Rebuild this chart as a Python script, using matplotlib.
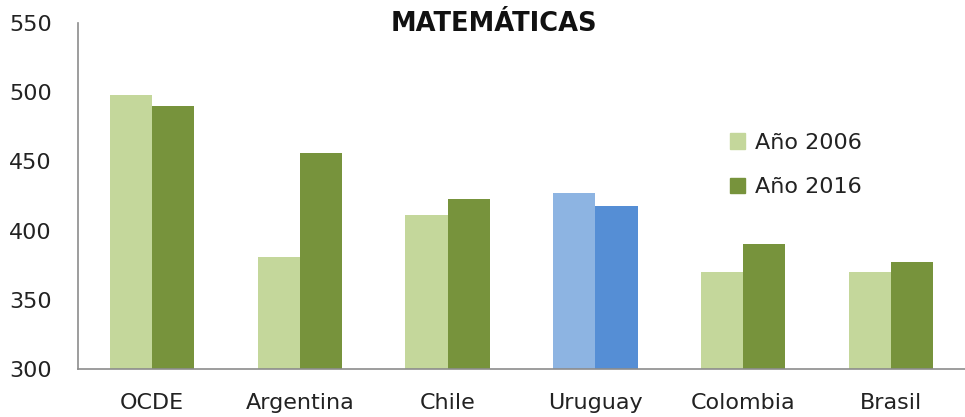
import numpy as np
import matplotlib
matplotlib.use("Agg")
import matplotlib.pyplot as plt
from matplotlib.patches import Patch

# data
paises = ['OCDE', 'Argentina', 'Chile', 'Uruguay', 'Colombia', 'Brasil']
anio_2006 = [498, 381, 411, 427, 370, 370]
anio_2016 = [490, 456, 423, 418, 390, 377]
y_ticks = [300, 350, 400, 450, 500, 550]

verde_claro = '#C4D79B'
verde_oscuro = '#77933C'
azul_claro = '#8DB4E2'
azul_oscuro = '#558ED5'

plt.rcParams['font.family'] = ['DejaVu Sans']

fig = plt.figure(figsize=(9.65, 4.17), dpi=100)
ax = fig.add_axes([78 / 965, 1 - 369 / 417, 1 - 78 / 965, (369 - 23) / 417])

x = np.arange(len(paises))
w = 0.285
c06 = [azul_claro if p == 'Uruguay' else verde_claro for p in paises]
c16 = [azul_oscuro if p == 'Uruguay' else verde_oscuro for p in paises]
ax.bar(x - w / 2, anio_2006, w, color=c06, zorder=2)
ax.bar(x + w / 2, anio_2016, w, color=c16, zorder=2)

ax.set_xlim(-0.5, len(paises) - 0.5)
ax.set_ylim(300, 550)
ax.set_yticks(y_ticks)
ax.set_xticks(x)
ax.set_xticklabels(paises)
ax.tick_params(axis='y', length=0, pad=19, labelsize=16, labelcolor='#222222')
ax.tick_params(axis='x', length=0, pad=17, labelsize=16, labelcolor='#222222')

for s in ['top', 'right']:
    ax.spines[s].set_visible(False)
for s in ['left', 'bottom']:
    ax.spines[s].set_color('#8C8C8C')
    ax.spines[s].set_linewidth(1.2)

fig.text(494 / 965, 1 - 24 / 417, 'MATEMÁTICAS', ha='center', va='center',
         fontsize=18.5, fontweight='bold', color='#111111')

handles = [Patch(color=verde_claro, label='Año 2006'),
           Patch(color=verde_oscuro, label='Año 2016')]
fig.legend(handles=handles, loc='center left', bbox_to_anchor=(710 / 965, 1 - 165 / 417),
           frameon=False, fontsize=16, handlelength=0.68, handleheight=0.68,
           handletextpad=0.45, labelspacing=1.1, labelcolor='#222222')

fig.savefig('out.png', dpi=100)
